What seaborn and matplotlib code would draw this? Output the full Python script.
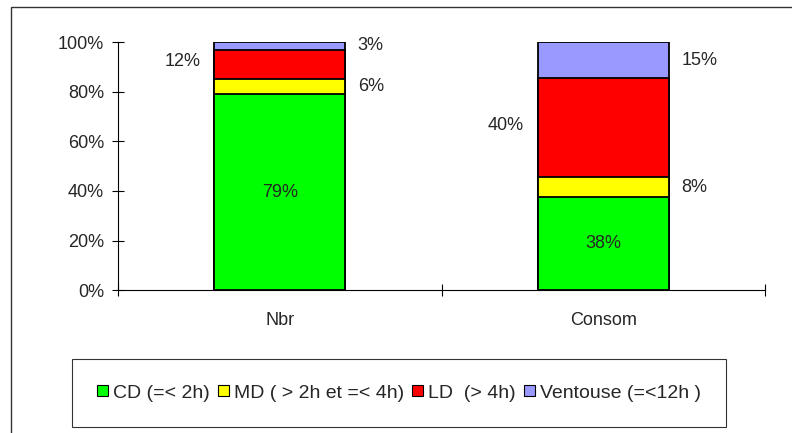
import numpy as np
import pandas as pd
import matplotlib
matplotlib.use("Agg")
import matplotlib.pyplot as plt
import seaborn as sns
from matplotlib.patches import Rectangle, Patch

# Données (en %)
categories = ["Nbr", "Consom"]
series = ["CD (=< 2h)", "MD ( > 2h et =< 4h)", "LD  (> 4h)", "Ventouse (=<12h )"]
cd = [79.0, 37.6]
md = [6.0, 7.9]
ld = [12.0, 39.9]
ventouse = [3.0, 14.6]
colors = ["#00FF00", "#FFFF00", "#FF0000", "#9999FF"]
# position des étiquettes pour chaque série
label_pos = ["center", "right", "left", "right"]
yticks = [0, 20, 40, 60, 80, 100]

sns.set_style("white")
plt.rcParams["font.family"] = ["Liberation Sans", "DejaVu Sans"]
plt.rcParams["font.size"] = 13

values = np.array([cd, md, ld, ventouse])
cum = np.cumsum(values, axis=0)
bar_w = 0.405

fig = plt.figure(figsize=(7.92, 4.33), dpi=100)
ax = fig.add_axes([0.149, 0.330, 0.817, 0.5727])

# barres empilées : on dessine les cumuls du plus grand au plus petit
for i in range(len(series) - 1, -1, -1):
    sns.barplot(x=categories, y=cum[i], color=colors[i], saturation=1,
                width=bar_w, edgecolor="black", linewidth=1.3, ax=ax)

# étiquettes de valeurs
for i in range(len(series)):
    for j, cat in enumerate(categories):
        mid = cum[i][j] - values[i][j] / 2
        txt = f"{values[i][j]:.0f}%"
        if label_pos[i] == "center":
            ax.annotate(txt, (j, mid), ha="center", va="center", fontsize=13)
        elif label_pos[i] == "right":
            ax.annotate(txt, (j + bar_w / 2, mid), xytext=(9, 0), textcoords="offset points",
                        ha="left", va="center", fontsize=13)
        else:
            ax.annotate(txt, (j - bar_w / 2, mid), xytext=(-10, 2), textcoords="offset points",
                        ha="right", va="center", fontsize=13)

ax.set_xlim(-0.5, 1.5)
ax.set_ylim(0, 100)
ax.set_yticks(yticks)
ax.set_yticklabels([f"{t}%" for t in yticks])
ax.set_xticks([0, 1])
ax.set_xticklabels(categories)
ax.set_xticks([-0.5, 0.5, 1.5], minor=True)
ax.tick_params(axis="x", which="major", length=0, pad=16, bottom=True)
ax.tick_params(axis="x", which="minor", direction="inout", length=8, width=0.8,
               color="black", bottom=True)
ax.tick_params(axis="y", direction="inout", length=8, width=0.8, color="black", pad=6, left=True)
ax.set_xlabel("")
ax.set_ylabel("")
sns.despine(ax=ax, top=True, right=True)
for s in ["left", "bottom"]:
    ax.spines[s].set_color("black")
    ax.spines[s].set_linewidth(0.8)

# légende
handles = [Patch(facecolor=c, edgecolor="black", linewidth=0.8) for c in colors]
leg = fig.legend(handles, series, ncol=4, loc="center", mode="expand",
                 bbox_to_anchor=(72 / 792, 1 - 429 / 433, 654 / 792, 72 / 433),
                 bbox_transform=fig.transFigure, fontsize=14, frameon=True, fancybox=False,
                 handlelength=0.55, handleheight=0.55, handletextpad=0.25, borderpad=1.3,
                 columnspacing=0.5, borderaxespad=0)
leg.get_frame().set_edgecolor("black")
leg.get_frame().set_linewidth(0.8)

# cadre extérieur
fig.patches.append(Rectangle((11 / 792, -0.2), 1.2, 1.2 - 7 / 433, transform=fig.transFigure,
                             fill=False, edgecolor="#333333", linewidth=1.0))

fig.savefig("out.png", dpi=100, facecolor="white")
